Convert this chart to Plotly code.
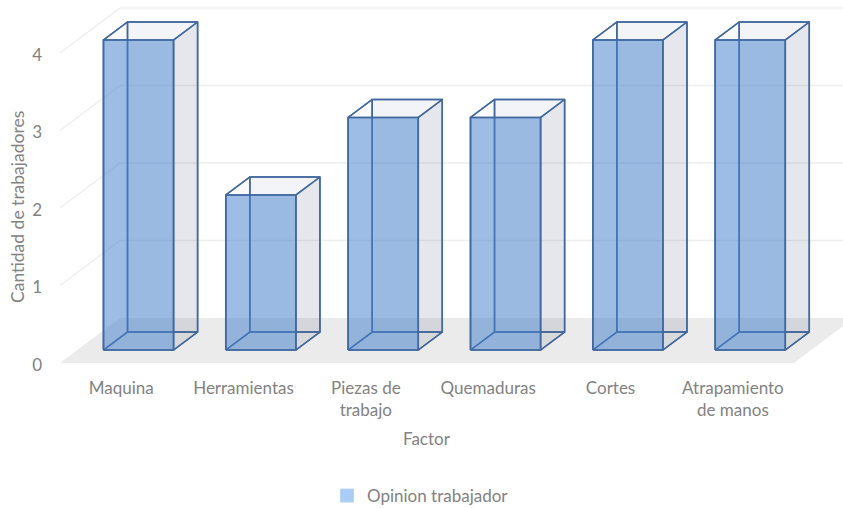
import plotly.graph_objects as go

categories = ["Maquina", "Herramientas", "Piezas de<br>trabajo", "Quemaduras", "Cortes", "Atrapamiento<br>de manos"]
values = [4, 2, 3, 3, 4, 4]
y_ticks = [0, 1, 2, 3, 4]
series_name = "Opinion trabajador"
x_title = "Factor"
y_title = "Cantidad de trabajadores"

# Oblique projection of the 3D box onto the 2D axes (axis units)
PX_X = 122.2
PX_Y = 77.5
PLOT_H = 363
LEFT = 60
DX = 60 / PX_X   # x shift for full depth of the floor
DY = 45 / PX_Y   # y shift for full depth of the floor
HALF = 35 / PX_X
D0, D1 = 13 / 45, 31 / 45
TXT = "#828282"
FONT = "Lato"
FS = 17
LINE = "#41689f"


def pt(x, v, d):
    return x + DX * d, v + DY * d


def polys(faces):
    xs, ys = [], []
    for face in faces:
        pts = [pt(*p) for p in face]
        pts.append(pts[0])
        xs += [p[0] for p in pts] + [None]
        ys += [p[1] for p in pts] + [None]
    return xs, ys


def face_trace(faces, fill, width=1.5, color=LINE):
    xs, ys = polys(faces)
    return go.Scatter(x=xs, y=ys, mode="lines", fill="toself", fillcolor=fill,
                      line=dict(color=color, width=width), hoverinfo="skip", showlegend=False)


idx = list(range(len(categories)))
x_lo, x_hi = -0.5, (843 - 122) / PX_X
fig = go.Figure()

# floor
fx, fy = polys([[(-0.5, 0, 0), (x_lo + 733 / PX_X, 0, 0), (x_lo + 733 / PX_X, 0, 1), (-0.5, 0, 1)]])
fig.add_trace(go.Scatter(x=fx, y=fy, mode="lines", fill="toself", fillcolor="#ebebeb",
                         line=dict(width=0), hoverinfo="skip", showlegend=False))

# gridlines along left wall and back wall
gx, gy = [], []
for t in y_ticks[1:]:
    for p in [(-0.5, t, 0), (-0.5, t, 1), (x_hi, t, 1)]:
        q = pt(*p) if p[0] == -0.5 else (p[0], t + DY)
        gx.append(q[0])
        gy.append(q[1])
    gx.append(None)
    gy.append(None)
fig.add_trace(go.Scatter(x=gx, y=gy, mode="lines", line=dict(color="#eeeeee", width=1.3),
                         hoverinfo="skip", showlegend=False))

back = [[(i - HALF, 0, D1), (i + HALF, 0, D1), (i + HALF, v, D1), (i - HALF, v, D1)] for i, v in zip(idx, values)]
left = [[(i - HALF, 0, D0), (i - HALF, 0, D1), (i - HALF, v, D1), (i - HALF, v, D0)] for i, v in zip(idx, values)]
bottom = [[(i - HALF, 0, D0), (i + HALF, 0, D0), (i + HALF, 0, D1), (i - HALF, 0, D1)] for i, v in zip(idx, values)]
right = [[(i + HALF, 0, D0), (i + HALF, 0, D1), (i + HALF, v, D1), (i + HALF, v, D0)] for i, v in zip(idx, values)]
top = [[(i - HALF, v, D0), (i + HALF, v, D0), (i + HALF, v, D1), (i - HALF, v, D1)] for i, v in zip(idx, values)]
front = [[(i - HALF, 0, D0), (i + HALF, 0, D0), (i + HALF, v, D0), (i - HALF, v, D0)] for i, v in zip(idx, values)]

fig.add_trace(face_trace(back, "rgba(68,84,140,0.055)"))
fig.add_trace(face_trace(left, "rgba(68,84,140,0.01)"))
fig.add_trace(face_trace(bottom, "rgba(68,84,106,0.03)"))
fig.add_trace(face_trace(right, "rgba(68,84,106,0.085)"))
fig.add_trace(face_trace(top, "rgba(68,84,140,0.01)"))
fig.add_trace(face_trace(front, "rgba(70,130,205,0.52)", width=1.7))

# legend entry
fig.add_trace(go.Scatter(x=[None], y=[None], mode="markers", name=series_name,
                         marker=dict(symbol="square", size=13, color="#a9cdf5",
                                     line=dict(color="#b9d4f2", width=1))))

PLOT_W = 843 - LEFT
fig.update_layout(
    width=843, height=508, autosize=False,
    margin=dict(l=LEFT, r=0, t=0, b=508 - PLOT_H, autoexpand=False),
    paper_bgcolor="white", plot_bgcolor="white",
    font=dict(family=FONT, size=FS, color=TXT),
    showlegend=True,
    legend=dict(orientation="h", x=(327 - LEFT) / PLOT_W, xanchor="left",
                y=(PLOT_H - 496) / PLOT_H, yanchor="middle",
                font=dict(family=FONT, size=FS, color=TXT), bgcolor="rgba(0,0,0,0)"),
    xaxis=dict(range=[x_lo, x_hi], tickmode="array", tickvals=idx, ticktext=categories,
               showgrid=False, zeroline=False, showline=False, ticks="", ticklabelstandoff=13,
               tickangle=0, fixedrange=True, automargin=False, tickfont=dict(family=FONT, size=FS, color=TXT)),
    yaxis=dict(range=[0, PLOT_H / PX_Y], tickmode="array", tickvals=y_ticks,
               ticktext=[str(t) for t in y_ticks], showgrid=False, zeroline=False,
               showline=False, ticks="", ticklabelstandoff=17, ticklabelshift=2, fixedrange=True, automargin=False,
               tickfont=dict(family=FONT, size=FS, color=TXT)),
    annotations=[
        dict(text=x_title, xref="paper", yref="paper", x=(427 - LEFT) / PLOT_W, y=(PLOT_H - 438) / PLOT_H,
             showarrow=False, xanchor="center", yanchor="middle", font=dict(family=FONT, size=FS, color=TXT)),
        dict(text=y_title, xref="paper", yref="paper", x=(17 - LEFT) / PLOT_W, y=(PLOT_H - 207) / PLOT_H,
             showarrow=False, xanchor="center", yanchor="middle", textangle=-90,
             font=dict(family=FONT, size=17.5, color=TXT)),
    ],
)
fig.write_html("out.html", config={"displayModeBar": False},
               post_script="document.body.style.margin='0';")
